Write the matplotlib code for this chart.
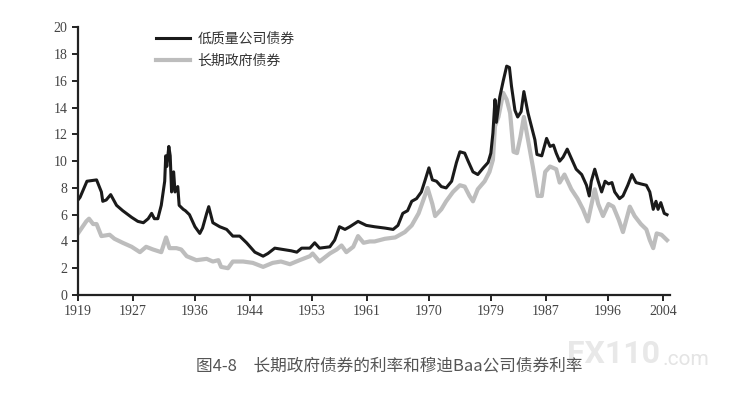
import numpy as np
import matplotlib
matplotlib.use('Agg')
import matplotlib.pyplot as plt

plt.rcParams['font.family'] = ['Noto Sans CJK SC', 'DejaVu Sans']

# === Данные ===
# Baa (низкокачественные корпоративные облигации)
baa_years = [1919.0, 1919.3, 1920.3, 1921.7, 1922.4, 1922.6, 1923.1, 1923.75, 1924.6, 1925.5,
             1926.8, 1927.7, 1928.5, 1929.2, 1929.7, 1930.1, 1930.6, 1931.1, 1931.6, 1931.75,
             1931.9, 1932.2, 1932.4, 1932.6, 1932.9, 1933.1, 1933.5, 1933.7, 1934.3, 1934.6,
             1935.2, 1936.0, 1936.7, 1937.1, 1937.7, 1938.0, 1938.6, 1939.6, 1940.6, 1941.5,
             1942.5, 1943.5, 1944.7, 1945.9, 1946.6, 1947.6, 1948.8, 1950.0, 1950.8, 1951.5,
             1952.7, 1953.4, 1954.1, 1955.6, 1956.3, 1957.0, 1957.8, 1958.5, 1959.7, 1960.9,
             1962.1, 1963.6, 1964.8, 1965.5, 1966.2, 1966.9, 1967.5, 1968.2, 1968.9, 1969.4,
             1970.0, 1970.5, 1971.1, 1971.8, 1972.5, 1973.3, 1974.0, 1974.5, 1975.2, 1975.7,
             1976.4, 1977.1, 1977.9, 1978.6, 1979.0, 1979.3, 1979.6, 1979.8, 1980.3, 1980.8,
             1981.3, 1981.7, 1982.0, 1982.5, 1982.9, 1983.4, 1983.8, 1984.4, 1984.9, 1985.4,
             1985.7, 1986.4, 1987.1, 1987.6, 1988.1, 1988.5, 1989.0, 1989.5, 1990.1, 1990.7,
             1991.4, 1992.2, 1992.9, 1993.3, 1993.6, 1994.1, 1994.6, 1995.1, 1995.6, 1996.1,
             1996.6, 1997.0, 1997.7, 1998.2, 1998.9, 1999.5, 2000.1, 2000.8, 2001.6, 2002.1,
             2002.6, 2003.0, 2003.3, 2003.7, 2004.2, 2004.6]
baa_rates = [7.1, 7.3, 8.5, 8.6, 7.7, 7.0, 7.1, 7.5, 6.7, 6.3,
             5.8, 5.5, 5.4, 5.7, 6.1, 5.7, 5.7, 6.7, 8.5, 10.4,
             9.6, 11.1, 10.4, 7.7, 9.2, 7.7, 8.1, 6.7, 6.4, 6.3,
             6.0, 5.1, 4.6, 5.0, 6.1, 6.6, 5.4, 5.1, 4.9, 4.4,
             4.4, 3.9, 3.2, 2.9, 3.1, 3.5, 3.4, 3.3, 3.2, 3.5,
             3.5, 3.9, 3.5, 3.6, 4.1, 5.1, 4.9, 5.1, 5.5, 5.2,
             5.1, 5.0, 4.9, 5.2, 6.1, 6.3, 7.0, 7.2, 7.7, 8.5,
             9.5, 8.6, 8.5, 8.1, 8.0, 8.5, 9.9, 10.7, 10.6, 10.0,
             9.2, 9.0, 9.5, 9.9, 10.6, 12.1, 14.6, 12.9, 14.8, 16.0,
             17.1, 17.0, 15.6, 13.8, 13.3, 13.7, 15.2, 13.6, 12.6, 11.6,
             10.5, 10.4, 11.7, 11.1, 11.2, 10.6, 10.0, 10.3, 10.9, 10.2,
             9.4, 9.0, 8.2, 7.4, 8.5, 9.4, 8.5, 7.7, 8.5, 8.3,
             8.4, 7.7, 7.2, 7.4, 8.2, 9.0, 8.4, 8.3, 8.2, 7.7,
             6.4, 7.0, 6.4, 6.9, 6.1, 6.0]

# Долгосрочные государственные облигации
gov_years = [1919.0, 1920.2, 1920.6, 1921.2, 1921.7, 1922.4, 1923.6, 1924.3, 1925.5, 1926.8,
             1928.0, 1928.9, 1929.9, 1931.1, 1931.8, 1932.3, 1933.3, 1934.0, 1934.8, 1936.2,
             1937.7, 1938.6, 1939.4, 1939.8, 1940.8, 1941.5, 1943.0, 1944.4, 1945.9, 1947.3,
             1948.5, 1949.8, 1951.2, 1952.7, 1953.1, 1954.1, 1955.6, 1956.6, 1957.3, 1958.0,
             1959.0, 1959.7, 1960.5, 1961.4, 1962.1, 1963.6, 1965.1, 1966.5, 1967.5, 1968.5,
             1969.4, 1969.8, 1970.5, 1970.9, 1971.8, 1972.5, 1973.5, 1974.5, 1975.2, 1975.9,
             1976.4, 1977.1, 1978.1, 1978.8, 1979.3, 1979.6, 1980.1, 1980.8, 1981.3, 1981.8,
             1982.3, 1982.8, 1983.3, 1983.8, 1984.4, 1985.1, 1985.8, 1986.4, 1986.9, 1987.6,
             1988.5, 1989.0, 1989.7, 1990.7, 1991.6, 1992.4, 1993.1, 1994.1, 1994.6, 1995.3,
             1996.1, 1996.8, 1997.6, 1998.2, 1999.2, 1999.9, 2000.8, 2001.6, 2002.1, 2002.6,
             2003.1, 2003.8, 2004.6]
gov_rates = [4.6, 5.5, 5.7, 5.3, 5.3, 4.4, 4.5, 4.2, 3.9, 3.6,
             3.2, 3.6, 3.4, 3.2, 4.3, 3.5, 3.5, 3.4, 2.9, 2.6,
             2.7, 2.5, 2.6, 2.1, 2.0, 2.5, 2.5, 2.4, 2.1, 2.4,
             2.5, 2.3, 2.6, 2.9, 3.1, 2.5, 3.1, 3.4, 3.7, 3.2,
             3.6, 4.4, 3.9, 4.0, 4.0, 4.2, 4.3, 4.7, 5.2, 6.1,
             7.4, 8.0, 6.8, 5.9, 6.4, 7.0, 7.7, 8.2, 8.1, 7.4,
             7.0, 7.9, 8.5, 9.2, 10.1, 12.6, 13.3, 15.1, 14.6, 13.6,
             10.7, 10.6, 11.8, 13.3, 11.6, 9.6, 7.4, 7.4, 9.2, 9.6,
             9.4, 8.4, 9.0, 7.9, 7.2, 6.4, 5.5, 7.9, 6.8, 5.9,
             6.8, 6.6, 5.6, 4.7, 6.6, 5.9, 5.3, 4.9, 4.1, 3.5,
             4.6, 4.5, 4.1]

xtick_years = [1919, 1927, 1936, 1944, 1953, 1961, 1970, 1979, 1987, 1996, 2004]
ytick_vals = list(range(0, 21, 2))

# === График ===
fig = plt.figure(figsize=(7.5, 4.08), dpi=100)
ax = fig.add_axes([0.104, 0.277, 0.789, 0.656])

ax.plot(gov_years, gov_rates, color='#bdbdbd', linewidth=3.0, label='长期政府债券')
ax.plot(baa_years, baa_rates, color='#1a1a1a', linewidth=2.2, label='低质量公司债券')

ax.set_xlim(1919, 2005)
ax.set_ylim(0, 20)
ax.set_xticks(xtick_years)
ax.set_yticks(ytick_vals)

for side in ['top', 'right']:
    ax.spines[side].set_visible(False)
for side in ['left', 'bottom']:
    ax.spines[side].set_linewidth(1.6)
    ax.spines[side].set_color('#222222')
ax.tick_params(direction='out', length=4, width=1.4, colors='#222222',
               labelsize=10, labelcolor='#444444')
for lab in ax.get_xticklabels() + ax.get_yticklabels():
    lab.set_family('Liberation Serif')

handles, labels = ax.get_legend_handles_labels()
ax.legend(handles[::-1], labels[::-1], loc='upper left', bbox_to_anchor=(0.11, 1.03),
          frameon=False, fontsize=10, handlelength=2.5, handletextpad=0.5,
          labelspacing=0.55, labelcolor='#333333')

# Водяной знак и подпись
fig.text(0.756, 0.133, 'FX110', fontsize=23, fontweight='bold', color='#e8e8e8',
         ha='left', va='center', zorder=0, family='Roboto')
fig.text(0.884, 0.118, '.com', fontsize=15, color='#e4e4e4',
         ha='left', va='center', zorder=0, family='Roboto')
fig.text(0.262, 0.103, '图4-8　长期政府债券的利率和穆迪Baa公司债券利率', fontsize=12,
         color='#555555', ha='left', va='center', zorder=2)

fig.savefig('out.png', dpi=100, facecolor='white')
